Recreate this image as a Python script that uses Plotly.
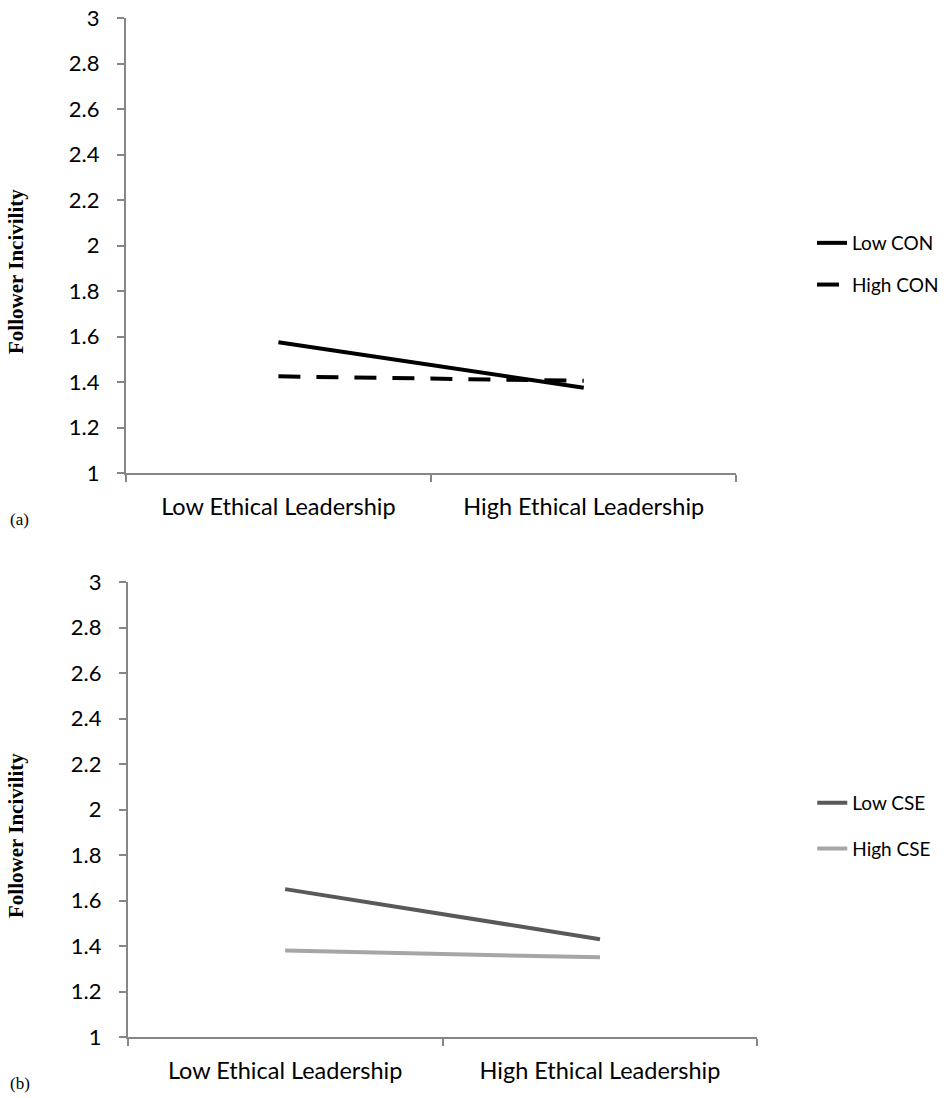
import plotly.graph_objects as go

categories = ["Low Ethical Leadership", "High Ethical Leadership"]
low_con = [1.575, 1.375]
high_con = [1.425, 1.405]
low_cse = [1.65, 1.43]
high_cse = [1.38, 1.35]
y_ticks = [1, 1.2, 1.4, 1.6, 1.8, 2, 2.2, 2.4, 2.6, 2.8, 3]

W, H = 944, 1098
FONT = "Lato"
AX = "#868686"

fig = go.Figure()
fig.add_trace(go.Scatter(x=categories, y=low_con, mode="lines", name="Low CON",
                         line=dict(color="black", width=4), xaxis="x", yaxis="y",
                         legend="legend", legendgroup="a1"))
fig.add_trace(go.Scatter(x=categories, y=high_con, mode="lines", name="High CON",
                         line=dict(color="black", width=4, dash="22px,16px"), xaxis="x", yaxis="y",
                         legend="legend", legendgroup="a2"))
fig.add_trace(go.Scatter(x=categories, y=low_cse, mode="lines", name="Low CSE",
                         line=dict(color="#595959", width=4), xaxis="x2", yaxis="y2",
                         legend="legend2", legendgroup="b1"))
fig.add_trace(go.Scatter(x=categories, y=high_cse, mode="lines", name="High CSE",
                         line=dict(color="#A6A6A6", width=4), xaxis="x2", yaxis="y2",
                         legend="legend2", legendgroup="b2"))

def px_x(v):
    return v / W

def px_y(v):
    return 1 - v / H

xcommon = dict(type="category", range=[-0.5, 1.5], tickson="boundaries", ticks="outside",
               ticklen=7, tickcolor=AX, tickwidth=1.5, showline=True, linecolor=AX, linewidth=1.5,
               showgrid=False, zeroline=False, tickfont=dict(family=FONT, size=23.5, color="black"),
               ticklabelstandoff=12, automargin=False, fixedrange=True, ticklabeloverflow="allow")
ycommon = dict(range=[1, 3], tickvals=y_ticks, ticks="outside", ticklen=7, tickcolor=AX, tickwidth=1.5,
               showline=True, linecolor=AX, linewidth=1.5, showgrid=False, zeroline=False,
               tickfont=dict(family=FONT, size=22, color="black"), ticklabelstandoff=13,
               automargin=False, fixedrange=True, ticklabeloverflow="allow")

fig.update_layout(
    width=W, height=H,
    margin=dict(l=0, r=0, t=0, b=0),
    paper_bgcolor="white", plot_bgcolor="white",
    hovermode=False,
    xaxis=dict(domain=[px_x(126), px_x(738)], anchor="y", **xcommon),
    yaxis=dict(domain=[px_y(473), px_y(18)], anchor="x", **ycommon),
    xaxis2=dict(domain=[px_x(128), px_x(759)], anchor="y2", **xcommon),
    yaxis2=dict(domain=[px_y(1037), px_y(582)], anchor="x2", **ycommon),
    legend=dict(x=px_x(814), y=px_y(224), xanchor="left", yanchor="top",
                font=dict(family=FONT, size=19, color="black"), traceorder="grouped",
                tracegroupgap=14, bgcolor="rgba(0,0,0,0)"),
    legend2=dict(x=px_x(814), y=px_y(784), xanchor="left", yanchor="top",
                 font=dict(family=FONT, size=19, color="black"), traceorder="grouped",
                 tracegroupgap=18, bgcolor="rgba(0,0,0,0)"),
    annotations=[
        dict(text="<b>Follower Incivility</b>", x=px_x(16), y=px_y(271), xref="paper", yref="paper",
             textangle=-90, showarrow=False, xanchor="center", yanchor="middle", borderpad=0,
             font=dict(family="Liberation Serif", size=21, color="black")),
        dict(text="<b>Follower Incivility</b>", x=px_x(16), y=px_y(835), xref="paper", yref="paper",
             textangle=-90, showarrow=False, xanchor="center", yanchor="middle", borderpad=0,
             font=dict(family="Liberation Serif", size=21, color="black")),
        dict(text="(a)", x=px_x(8), y=px_y(520), xref="paper", yref="paper", showarrow=False,
             xanchor="left", yanchor="middle", font=dict(family="Liberation Serif", size=17, color="black")),
        dict(text="(b)", x=px_x(8), y=px_y(1083), xref="paper", yref="paper", showarrow=False,
             xanchor="left", yanchor="middle", font=dict(family="Liberation Serif", size=17, color="black")),
    ],
)

fig.write_html("out.html", config={"displayModeBar": False},
               post_script="document.body.style.margin='0';document.body.style.overflow='hidden';")
